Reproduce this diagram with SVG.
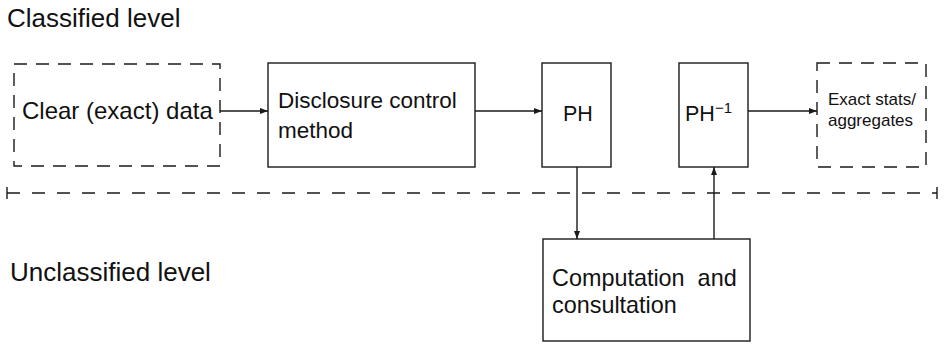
<svg xmlns="http://www.w3.org/2000/svg" width="944" height="344" viewBox="0 0 944 344">
<style>
text{font-family:"Liberation Sans",Arial,Helvetica,sans-serif;fill:#111}
.box{fill:none;stroke:#1a1a1a;stroke-width:1.4}
.dbox{fill:none;stroke:#1a1a1a;stroke-width:1.4;stroke-dasharray:13 9}
.conn{fill:none;stroke:#1a1a1a;stroke-width:1.4}
.sep{fill:none;stroke:#1a1a1a;stroke-width:1.4;stroke-dasharray:13 12}
</style>
<defs>
<marker id="ah" markerUnits="userSpaceOnUse" markerWidth="9" markerHeight="7" refX="8" refY="3" orient="auto">
<path d="M0,0 L8,3 L0,6 z" fill="#1a1a1a"/>
</marker>
</defs>
<rect width="944" height="344" fill="#fff"/>
<g id="labels">
<text x="7" y="27" font-size="26">Classified level</text>
<text x="10" y="281" font-size="26">Unclassified level</text>
</g>
<g id="separator">
<line class="sep" x1="7" y1="193" x2="937" y2="193"/>
<line class="conn" x1="7" y1="187" x2="7" y2="199"/>
<line class="conn" x1="937" y1="187" x2="937" y2="199"/>
</g>
<g id="clear">
<rect class="dbox" x="14" y="64" width="206" height="102"/>
<text x="22" y="119" font-size="24">Clear (exact) data</text>
</g>
<g id="disclosure">
<rect class="box" x="268" y="63" width="207" height="104"/>
<text x="278" y="108" font-size="22.5">Disclosure control</text>
<text x="278" y="138" font-size="22.5">method</text>
</g>
<g id="ph">
<rect class="box" x="542" y="63" width="69" height="104"/>
<text x="563" y="121" font-size="21.5">PH</text>
</g>
<g id="phinv">
<rect class="box" x="679" y="63" width="69" height="104"/>
<text x="685" y="121" font-size="21.5">PH<tspan font-size="15" dy="-8">−1</tspan></text>
</g>
<g id="exact">
<rect class="dbox" x="817" y="63" width="109" height="104"/>
<text x="828" y="105" font-size="17">Exact stats/</text>
<text x="828" y="126" font-size="17">aggregates</text>
</g>
<g id="computation">
<rect class="box" x="543" y="239" width="207" height="102"/>
<text x="552" y="286" font-size="23.4" xml:space="preserve">Computation  and</text>
<text x="552" y="313" font-size="23.4">consultation</text>
</g>
<g id="connectors">
<line class="conn" x1="220" y1="111" x2="268" y2="111" marker-end="url(#ah)"/>
<line class="conn" x1="475" y1="111" x2="542" y2="111" marker-end="url(#ah)"/>
<line class="conn" x1="748" y1="111" x2="817" y2="111" marker-end="url(#ah)"/>
<line class="conn" x1="577" y1="167" x2="577" y2="239" marker-end="url(#ah)"/>
<line class="conn" x1="714" y1="239" x2="714" y2="167" marker-end="url(#ah)"/>
</g>
</svg>
